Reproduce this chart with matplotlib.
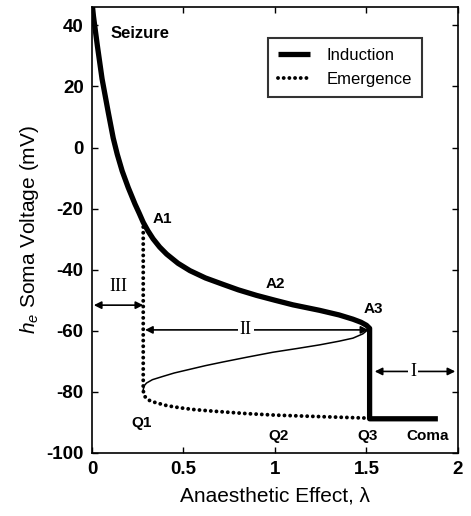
import matplotlib.pyplot as plt

plt.rcParams['font.family'] = 'Liberation Sans'
plt.rcParams['mathtext.fontset'] = 'custom'
plt.rcParams['mathtext.it'] = 'Liberation Sans:italic'
plt.rcParams['mathtext.rm'] = 'Liberation Sans'
plt.rcParams['axes.unicode_minus'] = False

# Upper (active) branch
lam_upper = [0.002, 0.008, 0.029, 0.055, 0.089, 0.116, 0.138, 0.165, 0.198,
             0.235, 0.258, 0.28, 0.305, 0.334, 0.37, 0.408, 0.47, 0.535,
             0.62, 0.716, 0.80, 0.899, 1.0, 1.098, 1.244, 1.35, 1.426,
             1.47, 1.50, 1.517]
v_upper = [46.5, 43.0, 33.5, 22.5, 11.5, 3.1, -2.2, -7.7, -13.1,
           -18.5, -21.5, -24.5, -27.2, -29.9, -32.6, -34.9, -37.9, -40.3,
           -42.7, -44.8, -46.6, -48.4, -50.0, -51.5, -53.3, -54.8, -56.2,
           -57.2, -58.2, -59.2]

# Middle (unstable) branch
lam_mid = [0.28, 0.285, 0.298, 0.33, 0.389, 0.45, 0.535, 0.62, 0.716,
           0.85, 0.99, 1.12, 1.244, 1.35, 1.426, 1.48, 1.517]
v_mid = [-79.3, -78.0, -77.1, -76.0, -74.9, -73.8, -72.6, -71.4, -70.2,
         -68.6, -67.0, -65.8, -64.6, -63.4, -62.4, -61.0, -59.2]

# Lower (quiescent) branch
lam_lower = [0.28, 0.283, 0.298, 0.32, 0.353, 0.41, 0.48, 0.56, 0.662,
             0.844, 1.0, 1.25, 1.517]
v_lower = [-79.3, -81.0, -82.2, -83.0, -83.6, -84.5, -85.2, -85.8, -86.3,
           -87.1, -87.6, -88.1, -88.6]

# Coma plateau
lam_coma = [1.517, 1.89]
v_coma = [-88.8, -88.8]

# Jump from Q1 up to A1 on emergence
v_jump_top = -25.5

fig = plt.figure(figsize=(4.71, 5.16), dpi=100)
ax = fig.add_axes([0.1953, 0.1221, 0.7771, 0.8643])

# Thin unstable branch
ax.plot(lam_mid, v_mid, color='black', lw=1.1)

# Emergence: lower branch then jump up to A1
lam_em = lam_lower[::-1] + [lam_lower[0]]
v_em = v_lower[::-1] + [v_jump_top]
ax.plot(lam_em, v_em, color='black', lw=2.8, linestyle=(0, (0.01, 1.45)),
        dash_capstyle='round', label='Emergence')

# Induction: upper branch, drop to coma
lam_ind = lam_upper + lam_coma
v_ind = v_upper + v_coma
ax.plot(lam_ind, v_ind, color='black', lw=3.8, solid_capstyle='butt',
        solid_joinstyle='round', label='Induction')

# Region arrows
arrow_kw = dict(arrowstyle='<|-|>', color='black', lw=1.2, mutation_scale=11,
                shrinkA=0, shrinkB=0)
ax.annotate('', xy=(0.01, -51.6), xytext=(0.28, -51.6), arrowprops=arrow_kw)
ax.text(0.145, -45.5, 'III', family='Liberation Serif', fontsize=13,
        ha='center', va='center')

ax.annotate('', xy=(0.29, -59.7), xytext=(1.51, -59.7), arrowprops=arrow_kw)
ax.text(0.84, -59.7, 'II', family='Liberation Serif', fontsize=13,
        ha='center', va='center',
        bbox=dict(facecolor='white', edgecolor='none', pad=1.5))

ax.annotate('', xy=(1.545, -73.3), xytext=(1.985, -73.3), arrowprops=arrow_kw)
ax.text(1.755, -73.3, 'I', family='Liberation Serif', fontsize=13,
        ha='center', va='center',
        bbox=dict(facecolor='white', edgecolor='none', pad=1.5))

# Point labels
lbl = dict(fontsize=11, fontweight='bold', ha='center', va='center')
ax.text(0.104, 37.2, 'Seizure', fontsize=12, fontweight='bold', ha='left', va='center')
ax.text(0.385, -23.4, 'A1', **lbl)
ax.text(1.0, -44.7, 'A2', **lbl)
ax.text(1.535, -52.8, 'A3', **lbl)
ax.text(0.271, -90.2, 'Q1', **lbl)
ax.text(1.022, -94.5, 'Q2', **lbl)
ax.text(1.507, -94.5, 'Q3', **lbl)
ax.text(1.835, -94.5, 'Coma', **lbl)

ax.set_xlim(0, 2)
ax.set_ylim(-100, 46)
ax.set_xticks([0, 0.5, 1, 1.5, 2])
ax.set_xticklabels(['0', '0.5', '1', '1.5', '2'])
ax.set_yticks([-100, -80, -60, -40, -20, 0, 20, 40])
ax.tick_params(direction='in', top=True, right=True, length=4, width=1,
               labelsize=13.5, pad=6)
for t in ax.get_xticklabels() + ax.get_yticklabels():
    t.set_fontweight('bold')
for s in ax.spines.values():
    s.set_linewidth(1.2)

ax.set_xlabel('Anaesthetic Effect, λ', fontsize=15, labelpad=6)
ax.set_ylabel(r'$h_e$ Soma Voltage (mV)', fontsize=15, labelpad=4)

handles, labels = ax.get_legend_handles_labels()
leg = ax.legend(handles[::-1], labels[::-1], loc='upper right',
                bbox_to_anchor=(0.901, 0.93), fontsize=12, frameon=True,
                fancybox=False, handlelength=1.9, borderpad=0.6,
                handletextpad=1.0, borderaxespad=0)
leg.get_frame().set_edgecolor('black')
leg.get_frame().set_linewidth(1.5)

fig.savefig('out.png', dpi=100)
